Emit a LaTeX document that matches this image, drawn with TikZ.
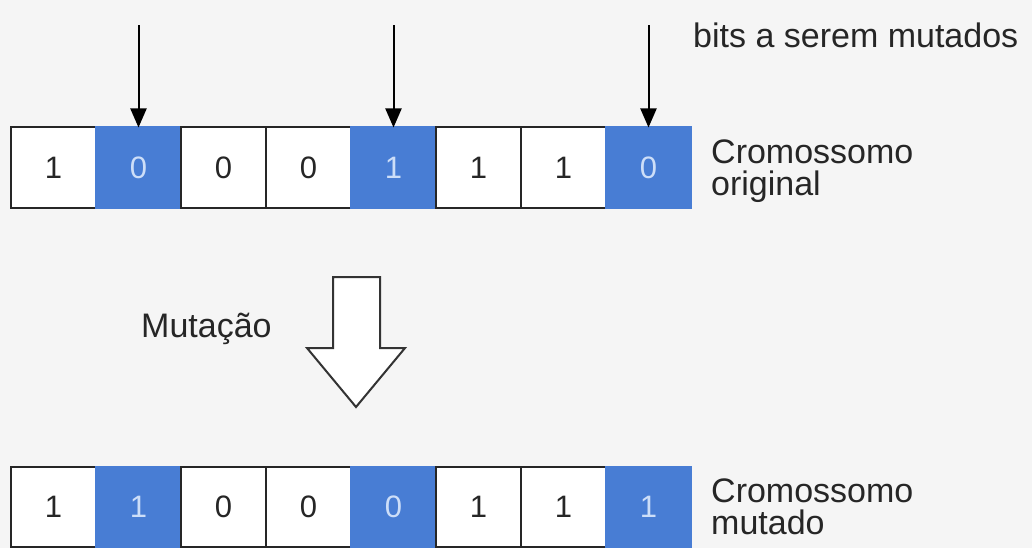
\documentclass[tikz,border=0pt]{standalone}
\usepackage{fontspec}
\setmainfont{Liberation Sans}
\usetikzlibrary{positioning,arrows.meta}

\definecolor{bgcolor}{RGB}{245,245,245}
\definecolor{bitblue}{RGB}{72,125,212}
\definecolor{bittext}{RGB}{205,222,248}

\tikzset{
  bit/.style={draw=black!85, line width=2pt, fill=white, minimum width=85pt,
    minimum height=80pt, inner sep=0pt, outer sep=0pt,
    font=\fontsize{31}{31}\selectfont, text=black!85},
  flip/.style={bit, draw=bitblue, fill=bitblue, text=bittext},
  lbl/.style={font=\fontsize{34}{32}\selectfont, text=black!85, align=left, inner sep=0pt},
  pick/.style={-{Triangle[length=19pt,width=16pt]}, line width=2pt, black}
}

\begin{document}
\begin{tikzpicture}[x=1pt,y=-1pt]
		\fill[bgcolor] (0,0) rectangle (1032,548);
		\useasboundingbox (0,0) rectangle (1032,548);

		% cromossomo original
		\node[bit] (o1) at (53.5,167.5) {1};
		\node[flip, right=0pt of o1] (o2) {0};
		\node[bit, right=0pt of o2] (o3) {0};
		\node[bit, right=0pt of o3] (o4) {0};
		\node[flip, right=0pt of o4] (o5) {1};
		\node[bit, right=0pt of o5] (o6) {1};
		\node[bit, right=0pt of o6] (o7) {1};
		\node[flip, right=0pt of o7] (o8) {0};

		\node[lbl, right=20pt of o8, yshift=-4pt] (orig) {Cromossomo\\original};

		% bits a serem mutados
		\coordinate[above=102pt of o2.north] (t2);
		\coordinate[above=102pt of o5.north] (t5);
		\coordinate[above=102pt of o8.north] (t8);
		\draw[pick] (t2) -- (o2.north);
		\draw[pick] (t5) -- (o5.north);
		\draw[pick] (t8) -- (o8.north);

		\node[lbl, anchor=base west] (bits) at (693,48) {bits a serem mutados};

		% mutacao
		\draw[line width=2pt, draw=black!80, fill=white, line join=miter]
		(333,277) -- (380,277) -- (380,348) -- (405,348) -- (356,407)
		-- (307,348) -- (333,348) -- cycle;
		\node[lbl, anchor=base west] (mut) at (141,337) {Mutação};

		% cromossomo mutado
		\node[bit] (m1) at (53.5,506.5) {1};
		\node[flip, right=0pt of m1] (m2) {1};
		\node[bit, right=0pt of m2] (m3) {0};
		\node[bit, right=0pt of m3] (m4) {0};
		\node[flip, right=0pt of m4] (m5) {0};
		\node[bit, right=0pt of m5] (m6) {1};
		\node[bit, right=0pt of m6] (m7) {1};
		\node[flip, right=0pt of m7] (m8) {1};

		\node[lbl, right=20pt of m8] (mutd) {Cromossomo\\mutado};
\end{tikzpicture}
\end{document}
